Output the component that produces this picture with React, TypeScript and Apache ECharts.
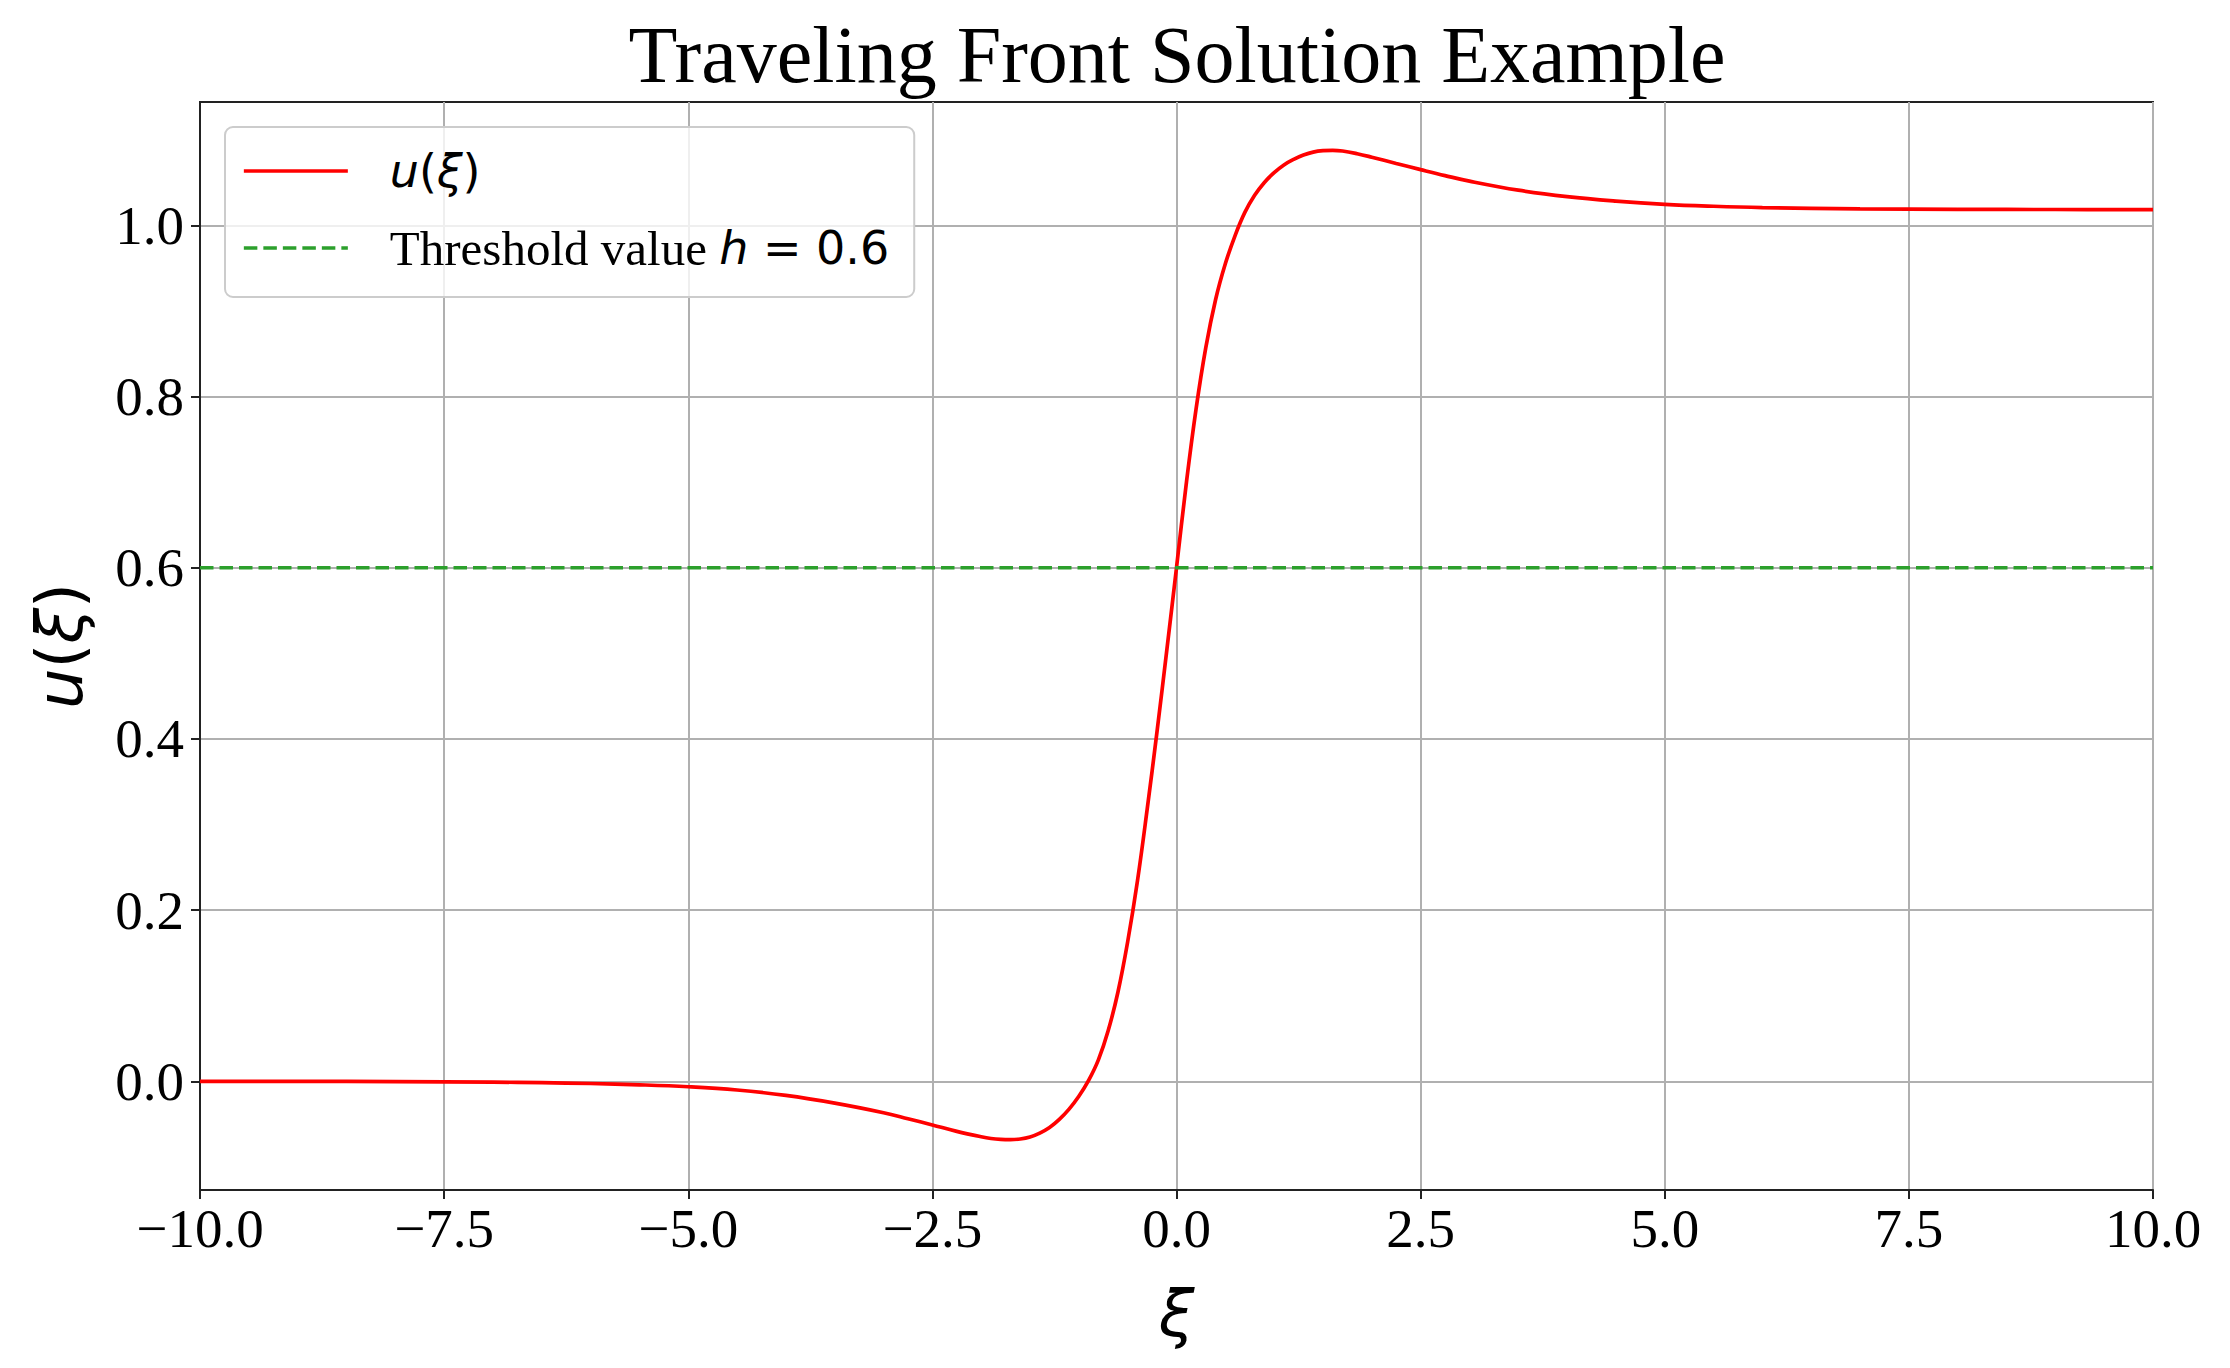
import React, { useEffect, useRef } from "react";
import * as echarts from "echarts";

const titleText = "Traveling Front Solution Example";
const seriesNames = ["u(ξ)", "Threshold value h = 0.6"];

const xiValues = [
  -10, -9, -8, -7, -6.5, -6, -5.5, -5, -4.5, -4, -3.5, -3, -2.75, -2.5, -2.25, -2,
  -1.9, -1.8, -1.7, -1.6, -1.5, -1.4, -1.3, -1.2, -1.1, -1.0, -0.9, -0.8, -0.7, -0.6,
  -0.5, -0.4, -0.3, -0.2, -0.1, 0, 0.1, 0.2, 0.3, 0.4, 0.5, 0.6, 0.7, 0.8, 0.9, 1.0,
  1.1, 1.2, 1.3, 1.4, 1.5, 1.6, 1.7, 1.85, 2.0, 2.25, 2.5, 2.75, 3.0, 3.5, 4.0, 4.5,
  5.0, 5.5, 6.0, 7.0, 8.0, 9.0, 10,
];
const uValues = [
  0.0, -0.0001, -0.0004, -0.001, -0.0016, -0.0026, -0.0041, -0.0064, -0.0102, -0.0165,
  -0.0255, -0.0367, -0.0437, -0.051, -0.0585, -0.0648, -0.0668, -0.0679, -0.0682,
  -0.0674, -0.065, -0.0605, -0.054, -0.0445, -0.0325, -0.0175, 0.001, 0.025, 0.059,
  0.104, 0.163, 0.234, 0.318, 0.408, 0.503, 0.6, 0.698, 0.785, 0.857, 0.913, 0.955,
  0.988, 1.015, 1.035, 1.05, 1.0615, 1.0705, 1.077, 1.082, 1.0855, 1.0872, 1.0876,
  1.0868, 1.0836, 1.0795, 1.0722, 1.065, 1.058, 1.0515, 1.041, 1.0335, 1.0283, 1.0245,
  1.0222, 1.0207, 1.0192, 1.0186, 1.0184, 1.0183,
];

const thresholdValue = 0.6;
const thresholdRange = [-10, 10];
const yTicks = [0, 0.2, 0.4, 0.6, 0.8, 1.0];

const AXIS_COLOR = "#222222";
const GRID_COLOR = "#b0b0b0";
const SERIF = "Liberation Serif";
const SANS = "DejaVu Sans";

function fmtTick(v: number): string {
  const s = Math.abs(v).toFixed(1);
  return v < -1e-9 ? "\u2212" + s : s;
}

export default function App() {
  const ref = useRef<HTMLDivElement>(null);

  useEffect(() => {
    document.body.style.margin = "0";
    const chart = echarts.init(ref.current as HTMLDivElement, null, {
      renderer: "svg",
      width: 2230,
      height: 1368,
    });

    const curve = xiValues.map((x, i) => [x, uValues[i]]);
    const threshold = thresholdRange.map((x) => [x, thresholdValue]);

    const option: any = {
      animation: false,
      backgroundColor: "#ffffff",
      title: {
        text: titleText,
        left: 1177,
        textAlign: "center",
        top: 15,
        padding: 0,
        textStyle: {
          fontFamily: SERIF,
          fontSize: 80,
          fontWeight: "normal",
          color: "#000000",
        },
      },
      grid: {
        left: 200,
        right: 77,
        top: 102,
        bottom: 178,
        show: true,
        borderColor: AXIS_COLOR,
        borderWidth: 2,
        backgroundColor: "transparent",
        containLabel: false,
      },
      legend: {
        orient: "vertical",
        left: 225,
        top: 127,
        padding: [14, 25, 19, 17],
        itemWidth: 104,
        itemHeight: 60,
        itemGap: 17,
        align: "left",
        backgroundColor: "rgba(255,255,255,0.8)",
        borderColor: "#cccccc",
        borderWidth: 2,
        borderRadius: 8,
        data: seriesNames,
        lineStyle: { width: 3.7 },
        itemStyle: { opacity: 0, color: "rgba(0,0,0,0)", borderWidth: 0 },
        formatter: (name: string) =>
          name === seriesNames[0]
            ? "{sp| }{mi|u}{mr|(}{mi|ξ}{mr|)}"
            : "{sp| }{tr|Threshold value }{mi|h}{mr| = 0.6}",
        textStyle: {
          color: "#000000",
          fontSize: 46,
          lineHeight: 60,
          rich: {
            sp: { width: 37, fontSize: 46, lineHeight: 60 },
            mi: { fontFamily: SANS, fontStyle: "italic", fontSize: 46, lineHeight: 60, color: "#000000" },
            mr: { fontFamily: SANS, fontSize: 46, lineHeight: 60, color: "#000000" },
            tr: { fontFamily: SERIF, fontSize: 49, lineHeight: 60, color: "#000000" },
          },
        },
      },
      xAxis: {
        type: "value",
        min: -10,
        max: 10,
        interval: 2.5,
        name: "ξ",
        nameLocation: "middle",
        nameGap: 92,
        nameTextStyle: {
          fontFamily: SANS,
          fontStyle: "italic",
          fontSize: 64,
          color: "#000000",
        },
        axisLine: { show: true, onZero: false, lineStyle: { color: AXIS_COLOR, width: 2 } },
        axisTick: { show: true, inside: false, length: 9, lineStyle: { color: AXIS_COLOR, width: 2 } },
        axisLabel: {
          show: true,
          interval: 0,
          hideOverlap: false,
          margin: 11,
          fontFamily: SERIF,
          fontSize: 55,
          color: "#000000",
          formatter: (v: number) => fmtTick(v),
        },
        splitLine: { show: true, lineStyle: { color: GRID_COLOR, width: 2 } },
      },
      yAxis: {
        type: "value",
        min: -0.127,
        max: 1.144,
        name: "{i|u}{r|(}{i|ξ}{r|)}",
        nameLocation: "middle",
        nameGap: 108,
        nameRotate: 90,
        nameTextStyle: {
          color: "#000000",
          rich: {
            i: { fontFamily: SANS, fontStyle: "italic", fontSize: 64, color: "#000000" },
            r: { fontFamily: SANS, fontSize: 64, color: "#000000" },
          },
        },
        axisLine: { show: true, onZero: false, lineStyle: { color: AXIS_COLOR, width: 2 } },
        axisTick: {
          show: true,
          inside: false,
          length: 9,
          customValues: yTicks,
          lineStyle: { color: AXIS_COLOR, width: 2 },
        },
        axisLabel: {
          show: true,
          margin: 16,
          customValues: yTicks,
          fontFamily: SERIF,
          fontSize: 55,
          color: "#000000",
          formatter: (v: number) => fmtTick(v),
        },
        splitLine: { show: true, lineStyle: { color: GRID_COLOR, width: 2 } },
      },
      series: [
        {
          type: "line",
          name: seriesNames[0],
          data: curve,
          symbol: "none",
          showSymbol: false,
          smooth: 0.4,
          lineStyle: { color: "#ff0000", width: 3.7 },
          itemStyle: { color: "#ff0000" },
          z: 3,
        },
        {
          type: "line",
          name: seriesNames[1],
          data: threshold,
          symbol: "none",
          showSymbol: false,
          lineStyle: { color: "#2ca02c", width: 3.5, type: [13.5, 6] },
          itemStyle: { color: "#2ca02c" },
          z: 4,
        },
      ],
    };

    chart.setOption(option);
    return () => chart.dispose();
  }, []);

  return (
    <div
      ref={ref}
      style={{ position: "absolute", left: 0, top: 0, width: 2230, height: 1368 }}
    />
  );
}
